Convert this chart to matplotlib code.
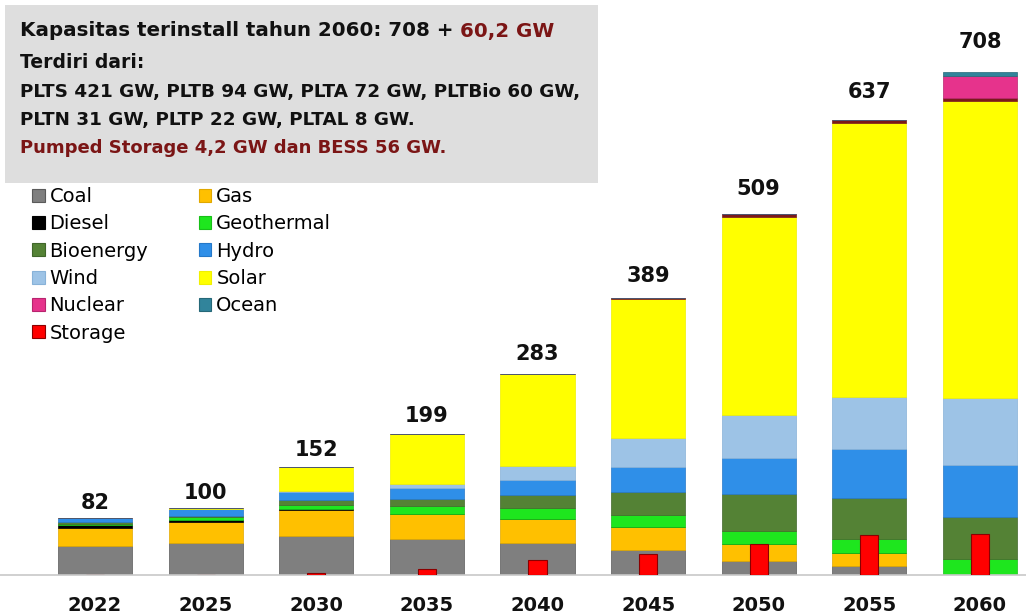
import matplotlib
matplotlib.use("Agg")
import matplotlib.pyplot as plt
from matplotlib.patches import Patch, Rectangle
import numpy as np

# ---------------- data ----------------
years = ["2022", "2025", "2030", "2035", "2040", "2045", "2050", "2055", "2060"]
totals = [82, 100, 152, 199, 283, 389, 509, 637, 708]

coal       = [41, 45, 55, 50, 45, 35, 19, 13, 0]
gas        = [25, 29, 36, 35, 34, 33, 24, 18, 0]
diesel     = [4, 3, 1, 0.5, 0, 0, 0, 0, 0]
geothermal = [2, 4, 6, 12, 15, 16, 19, 20, 22]
bioenergy  = [2, 2, 7, 8.5, 18, 33, 52, 57, 60]
hydro      = [6, 9, 12, 16, 22, 35, 50, 69, 72]
wind       = [0, 0.5, 0.5, 6, 19, 40, 60, 73, 94]
solar      = [0.5, 1, 34, 70, 129, 196, 279, 385, 418]
pumped     = [0, 0, 0, 0, 0.5, 1, 4, 4, 3]
nuclear    = [0, 0, 0, 0, 0, 0, 0, 0, 31]
ocean      = [0, 0, 0, 0, 0, 0, 0, 0, 6]
storage    = [0, 0, 3, 9, 21, 30, 43, 56, 58]

series = [
    ("Coal", coal, "#7f7f7f", "#5a5a5a"),
    ("Gas", gas, "#ffc000", "#e0a800"),
    ("Diesel", diesel, "#000000", "#000000"),
    ("Geothermal", geothermal, "#1ee61e", "#18c018"),
    ("Bioenergy", bioenergy, "#548235", "#40662a"),
    ("Hydro", hydro, "#2f8fe8", "#2578c8"),
    ("Wind", wind, "#9dc3e6", "#88b2d8"),
    ("Solar", solar, "#ffff00", "#f0f000"),
    ("Pumped", pumped, "#7b1a1a", "#7b1a1a"),
    ("Nuclear", nuclear, "#e6338c", "#b8246e"),
    ("Ocean", ocean, "#31849b", "#256878"),
]
storage_color = "#ff0000"
storage_edge = "#8b0000"

legend_order = ["Coal", "Diesel", "Bioenergy", "Wind", "Nuclear", "Storage",
                "Gas", "Geothermal", "Hydro", "Solar", "Ocean"]

title_black = "Kapasitas terinstall tahun 2060: 708 + "
title_red = "60,2 GW"
box_lines = ["Terdiri dari:",
             "PLTS 421 GW, PLTB 94 GW, PLTA 72 GW, PLTBio 60 GW,",
             "PLTN 31 GW, PLTP 22 GW, PLTAL 8 GW."]
box_red_line = "Pumped Storage 4,2 GW dan BESS 56 GW."

# ---------------- figure ----------------
W, H = 1026, 616
fig = plt.figure(figsize=(W / 100, H / 100), dpi=100)
fig.patch.set_facecolor("white")
plt.rcParams["font.family"] = "DejaVu Sans"
DARK = "#111111"
RED_TXT = "#7b1515"

base_px = 575
ax = fig.add_axes([0, (H - base_px) / H, 1, base_px / H])
x = np.arange(len(years))
ax.set_xlim(-95 / 110.6, 8 + 46 / 110.6)
ax.set_ylim(0, base_px / 0.7123)

bottom = np.zeros(len(years))
handles = {}
for name, vals, col, edge in series:
    v = np.array(vals, dtype=float)
    ax.bar(x, v, width=0.67, bottom=bottom, color=col, edgecolor=edge,
           linewidth=0.5, zorder=2)
    bottom += v
    handles[name] = Patch(facecolor=col, edgecolor=edge, linewidth=0.8)

ax.bar(x, storage, width=0.163, color=storage_color, edgecolor=storage_edge,
       linewidth=0.8, zorder=3)
handles["Storage"] = Patch(facecolor=storage_color, edgecolor=storage_edge, linewidth=0.8)

for xi, top, lab in zip(x, bottom, totals):
    off = (3 + 0.024 * lab) * 0.72
    ax.annotate(str(lab), (xi, top), xytext=(0, off), textcoords="offset points",
                ha="center", va="bottom", fontsize=15, fontweight="bold",
                color=DARK)

for s in ["top", "left", "right"]:
    ax.spines[s].set_visible(False)
ax.spines["bottom"].set_color("#c8c8c8")
ax.spines["bottom"].set_linewidth(1.2)
ax.set_yticks([])
ax.set_xticks(x)
ax.set_xticklabels(years, fontsize=14, fontweight="bold", color=DARK)
ax.tick_params(axis="x", length=0, pad=15)
ax.set_facecolor("none")

# ---------------- text box ----------------
fig.patches.append(Rectangle((5 / W, 1 - 183 / H), 593 / W, 178 / H,
                             transform=fig.transFigure, facecolor="#dedede",
                             edgecolor="none", zorder=0))
t1 = fig.text(20 / W, 1 - 31 / H, title_black, fontsize=14.3, fontweight="bold",
              color=DARK, va="center", ha="left")
renderer = fig.canvas.get_renderer()
bb = t1.get_window_extent(renderer=renderer)
fig.text(bb.x1 / W, 1 - 31 / H, title_red, fontsize=14.3, fontweight="bold",
         color=RED_TXT, va="center", ha="left")

fig.text(20 / W, 1 - 62 / H, box_lines[0], fontsize=13.5, fontweight="bold",
         color=DARK, va="center", ha="left")
fig.text(20 / W, 1 - 92 / H, box_lines[1], fontsize=13.2, fontweight="bold",
         color=DARK, va="center", ha="left")
fig.text(20 / W, 1 - 120 / H, box_lines[2], fontsize=13.2, fontweight="bold",
         color=DARK, va="center", ha="left")
fig.text(20 / W, 1 - 148 / H, box_red_line, fontsize=13.0, fontweight="bold",
         color=RED_TXT, va="center", ha="left")

# ---------------- legend ----------------
fig.legend([handles[n] for n in legend_order], legend_order, ncol=2,
           loc="upper left", bbox_to_anchor=(32 / W, 1 - 187 / H),
           frameon=False, fontsize=14, handlelength=0.65, handleheight=0.65,
           handletextpad=0.25, labelspacing=0.43, columnspacing=2.6,
           borderpad=0, borderaxespad=0)

fig.savefig("out.png", dpi=100, facecolor="white")
